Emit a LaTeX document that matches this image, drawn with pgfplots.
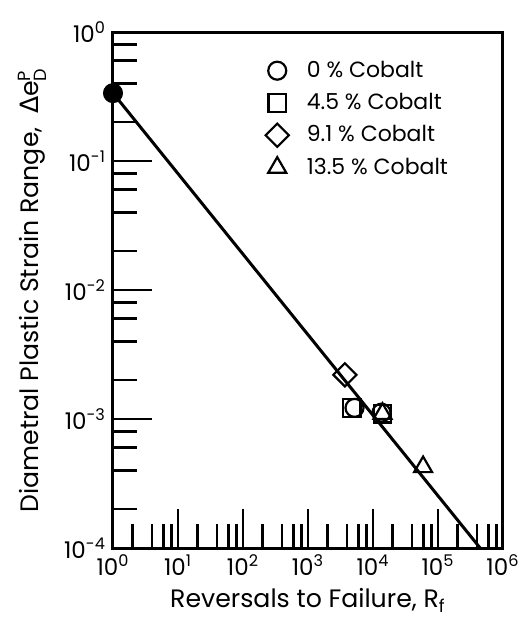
\documentclass[border=0pt]{standalone}
\usepackage{fontspec}
\setmainfont{Poppins}
\newfontfamily\dejavu{DejaVu Sans}
\usepackage{amsmath}
\usepackage{pgfplots}
\pgfplotsset{compat=1.18}

\begin{document}
\begin{tikzpicture}
\useasboundingbox (-56.5pt,-35pt) rectangle (206.5pt,274pt);
\begin{axis}[
    at={(0pt,0pt)}, anchor=south west,
    scale only axis, width=195pt, height=258pt,
    xmode=log, ymode=log,
    xmin=1, xmax=1e6, ymin=1e-4, ymax=1,
    clip=false,
    axis line style={line width=1.5pt},
    tick align=inside, tick pos=left,
    major tick length=19.5pt, minor tick length=12pt,
    every tick/.style={black, line width=1.2pt},
    xtick={1,10,100,1000,1e4,1e5,1e6},
    xticklabels={10\textsuperscript{0},10\textsuperscript{1},10\textsuperscript{2},10\textsuperscript{3},10\textsuperscript{4},10\textsuperscript{5},10\textsuperscript{6}},
    minor xtick={2,4,6,8,20,40,60,80,200,400,600,800,2000,4000,6000,8000,2e4,4e4,6e4,8e4,2e5,4e5,6e5,8e5},
    ytick={1e-4,1e-3,1e-2,1e-1,1},
    yticklabels={10\textsuperscript{-4},10\textsuperscript{-3},10\textsuperscript{-2},10\textsuperscript{-1},10\textsuperscript{0}},
    minor ytick={2e-4,4e-4,6e-4,8e-4,2e-3,4e-3,6e-3,8e-3,2e-2,4e-2,6e-2,8e-2,0.2,0.4,0.6,0.8},
    tick label style={font=\fontsize{11.5}{13}\selectfont},
    label style={font=\fontsize{12.6}{14}\selectfont},
    xlabel={Reversals to Failure, R\textsubscript{f}},
    ylabel={Diametral Plastic Strain Range,\ \ {\dejavu Δ}e$^{\text{P}}_{\text{D}}$},
    ylabel style={yshift=2pt},
    xlabel style={yshift=0.5pt},
    legend style={at={(0.375,0.96)}, anchor=north west, draw=none, fill=none,
        font=\fontsize{11}{13}\selectfont, row sep=2.5pt, column sep=7pt},
    legend cell align=left,
]
\addplot[black, line width=1.5pt, forget plot] coordinates {(1,0.336) (4.45e5,1e-4)};
\addplot[only marks, mark=o, mark size=4.5pt, line width=1.1pt, mark options={fill=white}]
    coordinates {(5.2e3,1.22e-3) (1.35e4,1.12e-3)};
\addlegendentry{0 \% Cobalt}
\addplot[only marks, mark=square, mark size=4.4pt, line width=1.1pt, mark options={fill=white}]
    coordinates {(4.7e3,1.22e-3) (1.4e4,1.1e-3)};
\addlegendentry{4.5 \% Cobalt}
\addplot[only marks, mark=square, mark size=4.1pt, line width=1.1pt, mark options={fill=white, rotate=45}]
    coordinates {(3.7e3,2.2e-3)};
\addlegendentry{9.1 \% Cobalt}
\addplot[only marks, mark=triangle, mark size=5.2pt, line width=1.1pt, mark options={fill=white}]
    coordinates {(1.4e4,1.1e-3) (5.9e4,4.25e-4)};
\addlegendentry{13.5 \% Cobalt}
\addplot[only marks, mark=*, mark size=4.8pt, black, forget plot] coordinates {(1,0.336)};
\end{axis}
\end{tikzpicture}
\end{document}
